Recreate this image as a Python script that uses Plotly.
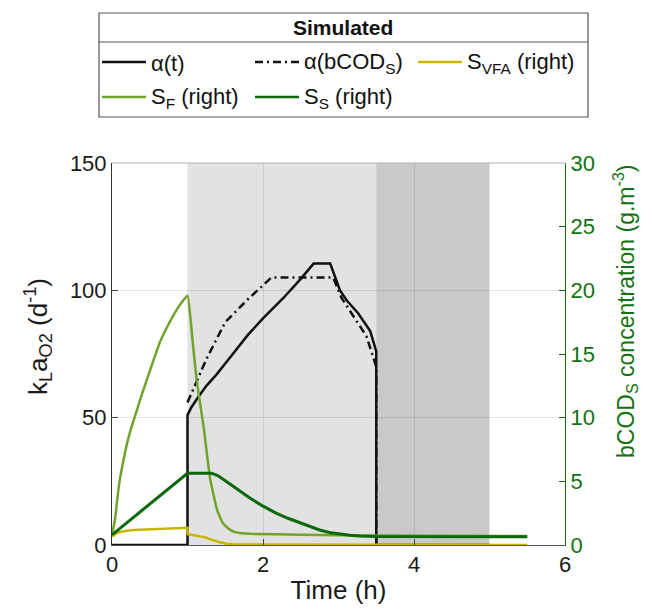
import plotly.graph_objects as go

# alpha(t), left axis
t_alpha = [0, 1.0, 1.0, 1.05, 1.14, 1.25, 1.386, 1.5, 1.6, 1.8, 2.0, 2.27, 2.5, 2.67, 2.89, 3.02, 3.11, 3.26, 3.42, 3.5, 3.5, 5.0]
alpha_t = [0, 0, 51, 54, 58, 62.5, 67, 71.5, 75, 82.5, 89, 97, 104.5, 110.5, 110.5, 100, 96, 91, 84, 76, 0, 0]

# alpha(bCOD_S), left axis
t_bcod = [1.0, 1.03, 1.25, 1.5, 1.8, 2.11, 2.93, 3.04, 3.2, 3.37, 3.5, 3.5]
alpha_bcod = [56, 58, 73, 87.5, 96.5, 105, 105, 97, 89.5, 82, 70, 0]

# right axis concentrations (g/m3)
t_vfa = [0, 0.04, 0.08, 0.15, 0.28, 0.6, 1.0, 1.0, 1.06, 1.17, 1.24, 1.30, 1.37, 1.43, 1.52, 1.6, 5.5]
s_vfa = [0.65, 0.85, 0.97, 1.08, 1.18, 1.27, 1.36, 0.85, 0.79, 0.72, 0.6, 0.45, 0.31, 0.21, 0.1, 0.05, 0]

t_sf = [0, 0.02, 0.04, 0.07, 0.1, 0.15, 0.2, 0.26, 0.33, 0.4, 0.48, 0.56, 0.64, 0.72, 0.8, 0.86, 0.93, 1.0,
        1.06, 1.12, 1.17, 1.22, 1.26, 1.30, 1.35, 1.39, 1.43, 1.47, 1.54, 1.61, 1.72, 1.83, 2.5, 3.5, 5.5]
s_f = [0.8, 1.4, 2.0, 3.6, 5.0, 6.6, 8.0, 9.3, 10.6, 11.9, 13.3, 14.7, 16.0, 17.0, 17.9, 18.5, 19.1, 19.6,
       16.5, 13.0, 11.0, 9.0, 7.0, 5.2, 3.8, 2.8, 2.2, 1.7, 1.3, 1.05, 0.93, 0.88, 0.8, 0.75, 0.7]

t_ss = [0, 0.25, 0.5, 0.75, 1.0, 1.32, 1.4, 1.52, 1.65, 1.83, 2.0, 2.18, 2.33, 2.49, 2.62, 2.75, 2.88, 3.02, 3.15, 3.28, 3.5, 5.5]
s_s = [0.8, 2.0, 3.2, 4.4, 5.63, 5.63, 5.45, 4.97, 4.4, 3.67, 3.05, 2.49, 2.1, 1.75, 1.45, 1.18, 0.98, 0.84, 0.76, 0.71, 0.66, 0.65]

# shaded phases (h)
phase_light = [1.0, 3.5]
phase_dark = [3.5, 5.0]

legend_names = ["α(t)", "α(bCOD<sub>S</sub>)", "S<sub>VFA</sub> (right)", "S<sub>F</sub> (right)", "S<sub>S</sub> (right)"]
colors = ["#111111", "#111111", "#c9b400", "#70a32c", "#0b680b"]
dashes = ["solid", "8px,4px,2px,4px", "solid", "solid", "solid"]

FONT = "Liberation Sans, Arial, sans-serif"
GREEN_AX = "#127212"
# page has an 8px body margin, so the figure is a bit smaller than the window
OFF = 8
W, H = 654 - OFF, 613 - OFF
L, R, T, B = 112 - OFF, 89, 163 - OFF, 68
PW, PH = W - L - R, H - T - B


def px_x(px):
    return (px - 112) / PW


def px_y(py):
    return (545 - py) / PH


fig = go.Figure()
fig.add_trace(go.Scatter(x=t_alpha, y=alpha_t, mode="lines", name=legend_names[0],
                         line=dict(color=colors[0], width=2.5)))
fig.add_trace(go.Scatter(x=t_bcod, y=alpha_bcod, mode="lines", name=legend_names[1],
                         line=dict(color=colors[1], width=2.5, dash=dashes[1])))
fig.add_trace(go.Scatter(x=t_vfa, y=s_vfa, mode="lines", name=legend_names[2],
                         line=dict(color=colors[2], width=2.5), yaxis="y2"))
fig.add_trace(go.Scatter(x=t_sf, y=s_f, mode="lines", name=legend_names[3],
                         line=dict(color=colors[3], width=2.5, shape="spline", smoothing=0.4), yaxis="y2"))
fig.add_trace(go.Scatter(x=t_ss, y=s_s, mode="lines", name=legend_names[4],
                         line=dict(color=colors[4], width=3), yaxis="y2"))

fig.add_vrect(x0=phase_light[0], x1=phase_light[1], fillcolor="#e2e2e2", line_width=0, layer="below")
fig.add_vrect(x0=phase_dark[0], x1=phase_dark[1], fillcolor="#c9c9c9", line_width=0, layer="below")

# top border of axes box
fig.add_shape(type="line", xref="paper", yref="paper", x0=0, x1=1, y0=1, y1=1,
              line=dict(color="#b0b0b0", width=1))

# hand-made legend box (matlab style: title row + 3 columns)
fig.add_shape(type="rect", xref="paper", yref="paper",
              x0=px_x(99), x1=px_x(588), y0=px_y(117), y1=px_y(13),
              line=dict(color="#555555", width=1.2), fillcolor="white")
fig.add_shape(type="line", xref="paper", yref="paper",
              x0=px_x(99), x1=px_x(588), y0=px_y(42), y1=px_y(42),
              line=dict(color="#555555", width=1.2))
fig.add_annotation(text="<b>Simulated</b>", xref="paper", yref="paper", x=px_x(343), y=px_y(28),
                   showarrow=False, xanchor="center", yanchor="middle",
                   font=dict(size=21, color="#111"))

slots = [(102, 62), (255, 62), (418, 62), (102, 97), (255, 97)]
for (sx, sy), name, c, d in zip(slots, legend_names, colors, dashes):
    fig.add_shape(type="line", xref="paper", yref="paper",
                  x0=px_x(sx), x1=px_x(sx + 44), y0=px_y(sy), y1=px_y(sy),
                  line=dict(color=c, width=2.5, dash=d))
    fig.add_annotation(text=name, xref="paper", yref="paper", x=px_x(sx + 47), y=px_y(sy + 1),
                       showarrow=False, xanchor="left", yanchor="middle",
                       font=dict(size=22, color="#111"))

# axis labels placed as in the original (not centred on the axis)
fig.add_annotation(text="k<sub>L</sub>a<sub>O2</sub> (d<sup>-1</sup>)", xref="paper", yref="paper",
                   x=px_x(38), y=px_y(337), textangle=-90, showarrow=False,
                   xanchor="center", yanchor="middle", font=dict(size=26, color="#1a1a1a"))
fig.add_annotation(text="bCOD<sub>S</sub> concentration (g.m<sup>-3</sup>)", xref="paper", yref="paper",
                   x=px_x(625), y=px_y(311), textangle=-90, showarrow=False,
                   xanchor="center", yanchor="middle", font=dict(size=23, color=GREEN_AX))

fig.update_layout(
    width=W, height=H,
    margin=dict(l=L, r=R, t=T, b=B, autoexpand=False),
    paper_bgcolor="white", plot_bgcolor="white",
    font=dict(family=FONT, size=22, color="#1a1a1a"),
    showlegend=False,
    xaxis=dict(
        range=[0, 6], tickvals=[0, 2, 4, 6], ticks="inside", ticklen=6, automargin=False,
        showline=True, linecolor="#555555", linewidth=1,
        showgrid=True, gridcolor="rgba(0,0,0,0.1)", zeroline=False,
        title=dict(text="Time (h)", font=dict(size=26), standoff=4),
        tickfont=dict(size=22),
    ),
    yaxis=dict(
        range=[0, 150], tickvals=[0, 50, 100, 150], ticks="inside", ticklen=6, automargin=False,
        showline=True, linecolor="#333333", linewidth=1,
        showgrid=True, gridcolor="rgba(0,0,0,0.1)", zeroline=False,
        tickfont=dict(size=22),
    ),
    yaxis2=dict(
        range=[0, 30], tickvals=[0, 5, 10, 15, 20, 25, 30], overlaying="y", side="right",
        ticks="inside", ticklen=6, tickcolor=GREEN_AX, automargin=False,
        showline=True, linecolor=GREEN_AX, linewidth=1,
        showgrid=False, zeroline=False,
        tickfont=dict(size=22, color=GREEN_AX),
    ),
)

fig.write_html("out.html")
